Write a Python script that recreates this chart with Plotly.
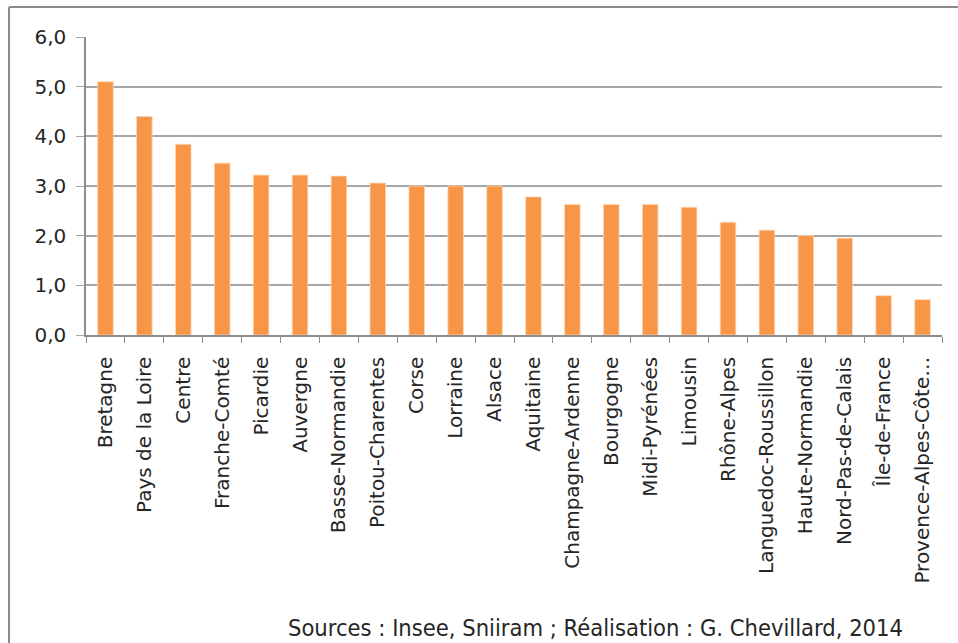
import plotly.graph_objects as go

regions = ["Bretagne", "Pays de la Loire", "Centre", "Franche-Comté", "Picardie",
           "Auvergne", "Basse-Normandie", "Poitou-Charentes", "Corse", "Lorraine",
           "Alsace", "Aquitaine", "Champagne-Ardenne", "Bourgogne", "Midi-Pyrénées",
           "Limousin", "Rhône-Alpes", "Languedoc-Roussillon", "Haute-Normandie",
           "Nord-Pas-de-Calais", "Île-de-France", "Provence-Alpes-Côte…"]
values = [5.1, 4.4, 3.84, 3.46, 3.22, 3.22, 3.2, 3.06, 3.0, 3.0,
          3.0, 2.78, 2.63, 2.63, 2.63, 2.57, 2.27, 2.11, 2.0, 1.95, 0.79, 0.71]
y_ticks = [0, 1, 2, 3, 4, 5, 6]
source_text = "Sources : Insee, Sniiram ; Réalisation : G. Chevillard, 2014"

W, H = 958, 643
L, R, T, B = 86, 942, 37, 335

fig = go.Figure(go.Bar(
    x=regions, y=values,
    marker=dict(color="#f79646", line=dict(color="#fcd5b5", width=0.8)),
    hoverinfo="x+y",
))

def px_x(p):
    return (p - L) / (R - L)

def px_y(p):
    return (B - p) / (B - T)

frame = dict(color="#8c8c8c", width=2)
fig.add_shape(type="line", xref="paper", yref="paper",
              x0=px_x(9), x1=px_x(9), y0=px_y(7), y1=px_y(700), line=frame)
fig.add_shape(type="line", xref="paper", yref="paper",
              x0=px_x(9), x1=px_x(1000), y0=px_y(7), y1=px_y(7), line=frame)

fig.add_annotation(text=source_text, xref="paper", yref="paper",
                   x=px_x(905), y=px_y(628), xanchor="right", yanchor="middle",
                   showarrow=False,
                   font=dict(family="Liberation Sans Narrow, DejaVu Sans Condensed, Arial Narrow, sans-serif",
                             size=23.5, color="#262626"))

fig.update_layout(
    width=W, height=H,
    margin=dict(l=L, r=W - R, t=T, b=H - B, pad=0),
    paper_bgcolor="white", plot_bgcolor="white",
    bargap=0.6,
    separators=", ",
    showlegend=False,
    font=dict(family="DejaVu Sans, sans-serif", color="#262626"),
    xaxis=dict(
        type="category", tickangle=-90, tickson="boundaries",
        ticks="outside", ticklen=6, tickcolor="#8c8c8c",
        showline=True, linecolor="#8c8c8c", linewidth=1.5,
        showgrid=False, tickfont=dict(size=20, color="#262626"),
        ticklabelstandoff=12,
        range=[-0.5, len(regions) - 0.5],
    ),
    yaxis=dict(
        range=[0, 6], tickvals=y_ticks, tickformat=".1f",
        ticks="outside", ticklen=8, tickcolor="#a6a6a6",
        showline=True, linecolor="#8c8c8c", linewidth=1.5,
        showgrid=True, gridcolor="#a6a6a6", gridwidth=1.5,
        zeroline=False,
        tickfont=dict(size=20, color="#262626"),
        ticklabelstandoff=6,
    ),
)

fig.write_html("out.html", config={"displayModeBar": False},
               post_script="document.body.style.margin='0';")
